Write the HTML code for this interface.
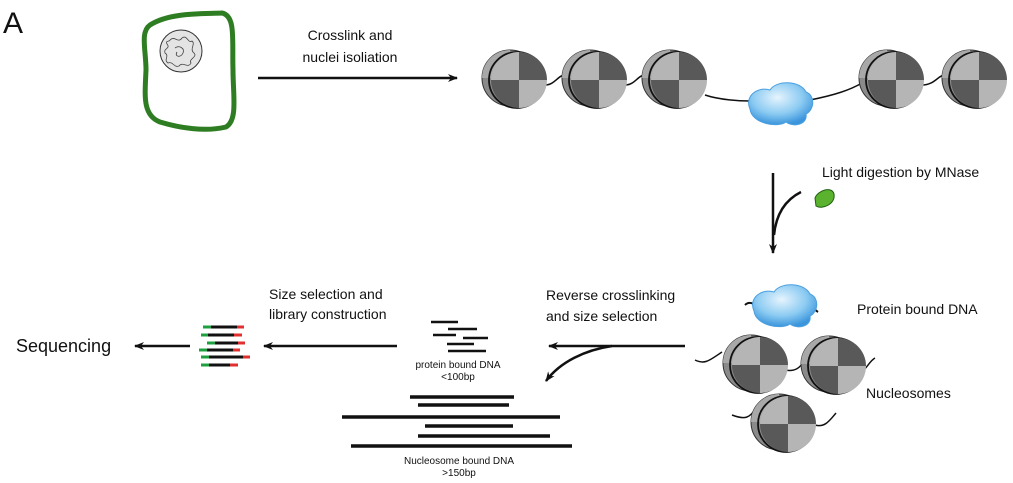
<!DOCTYPE html>
<html><head><meta charset="utf-8"><style>
html,body{margin:0;padding:0;background:#fff;width:1013px;height:483px;overflow:hidden}
text{font-family:"Liberation Sans",Arial,sans-serif;fill:#111}
</style></head><body>
<svg width="1013" height="483" viewBox="0 0 1013 483" xmlns="http://www.w3.org/2000/svg">
<defs>
<marker id="ah" viewBox="0 0 10 10" refX="9" refY="5" markerWidth="12" markerHeight="10" markerUnits="userSpaceOnUse" orient="auto"><path d="M0,1 L10,5 L0,9 L3,5 Z" fill="#111"/></marker>
<radialGradient id="blob" cx="45%" cy="35%" r="65%"><stop offset="0" stop-color="#e6f4fd"/><stop offset="0.6" stop-color="#8ccbf2"/><stop offset="1" stop-color="#3b95dc"/></radialGradient>
<g id="nuc">
<circle cx="-5" cy="-2" r="28" fill="#8a8a8a" stroke="#333" stroke-width="1"/>
<path d="M-5,-30 A28,28 0 0 0 -33,-2 L-5,-2 Z" fill="#a8a8a8"/>
<circle cx="2" cy="0" r="28" fill="none" stroke="#111" stroke-width="1.8"/>
<path d="M4,0 L4,-28 A28,28 0 0 0 -24,0 Z" fill="#b5b5b5"/>
<path d="M4,0 L4,-28 A28,28 0 0 1 32,0 Z" fill="#595959"/>
<path d="M4,0 L-24,0 A28,28 0 0 0 4,28 Z" fill="#595959"/>
<path d="M4,0 L32,0 A28,28 0 0 1 4,28 Z" fill="#b5b5b5"/>
</g>
<path id="cloud" d="M-30,5 C-36,-8 -22,-18 -10,-14 C-4,-24 20,-24 26,-12 C36,-8 34,6 26,10 C28,20 14,24 6,18 C-2,24 -28,20 -30,5 Z" fill="url(#blob)" stroke="#4a9fe0" stroke-width="1"/>
</defs>

<text x="3" y="33" font-size="30">A</text>

<path d="M150,25 C170,12 205,14 222,13 C236,16 232,40 233,70 C233,95 238,120 226,127 C205,132 180,128 160,122 C142,115 145,95 146,70 C146,50 140,32 150,25 Z" fill="none" stroke="#2f7d22" stroke-width="5"/>
<circle cx="181" cy="51" r="21" fill="#e4e4e4" stroke="#333" stroke-width="1"/>
<path d="M170,40 c5,-5 8,4 12,-2 c5,-4 6,6 10,3 c4,3 -3,8 2,12 c4,4 -6,6 -3,10 c-3,6 -8,-2 -12,3 c-5,2 -6,-5 -11,-3 c-5,-3 2,-7 -3,-10 c-2,-5 6,-4 2,-9 c-2,-4 3,-2 3,-4 Z M175,48 c4,-3 10,0 8,5 c-2,5 -9,4 -6,-1" fill="none" stroke="#444" stroke-width="0.8"/>

<text x="350" y="40" font-size="14" text-anchor="middle">Crosslink and</text>
<text x="350" y="62" font-size="14" text-anchor="middle">nuclei isoliation</text>
<line x1="258" y1="78" x2="457" y2="78" stroke="#111" stroke-width="2.5" marker-end="url(#ah)"/>

<path d="M545,85 C555,85 558,75 565,75 M625,85 C635,85 638,75 645,75 M705,95 C720,100 740,101 750,101 M810,100 C835,95 850,90 862,83 M922,85 C935,85 938,75 945,75" fill="none" stroke="#111" stroke-width="1.5"/>
<use href="#nuc" x="515" y="80"/>
<use href="#nuc" x="595" y="80"/>
<use href="#nuc" x="675" y="80"/>
<use href="#cloud" x="780" y="104"/>
<use href="#nuc" x="892" y="80"/>
<use href="#nuc" x="975" y="80"/>

<line x1="773" y1="173" x2="773" y2="253" stroke="#111" stroke-width="2.5" marker-end="url(#ah)"/>
<path d="M801,192 C785,200 776,215 774,235" fill="none" stroke="#111" stroke-width="2.5"/>
<path d="M815,198 C818,190 832,186 834,194 C836,204 822,210 816,206 Z" fill="#5ab22e" stroke="#1e5e10" stroke-width="1"/>
<text x="822" y="177" font-size="14">Light digestion by MNase</text>

<path d="M745,305 C750,300 755,305 760,308 M805,305 C812,306 815,310 818,312" fill="none" stroke="#111" stroke-width="2"/>
<use href="#cloud" x="784" y="306"/>
<text x="857" y="314" font-size="14">Protein bound DNA</text>
<path d="M695,360 C705,365 710,360 722,352 M785,370 C795,372 800,368 805,360 M858,372 C866,372 868,362 875,358 M732,415 C745,420 750,418 756,408 M815,425 C825,428 830,420 836,413" fill="none" stroke="#111" stroke-width="1.5"/>
<use href="#nuc" x="756" y="365"/>
<use href="#nuc" x="834" y="366"/>
<use href="#nuc" x="784" y="424"/>
<text x="866" y="398" font-size="14">Nucleosomes</text>

<text x="546" y="300" font-size="14">Reverse crosslinking</text>
<text x="546" y="321" font-size="14">and size selection</text>
<line x1="685" y1="346" x2="549" y2="346" stroke="#111" stroke-width="2.5" marker-end="url(#ah)"/>
<path d="M612,346 C585,350 560,362 546,381" fill="none" stroke="#111" stroke-width="2.5" marker-end="url(#ah)"/>

<g stroke="#111" stroke-width="2.5">
<line x1="431" y1="322" x2="458" y2="322"/>
<line x1="448" y1="329" x2="477" y2="329"/>
<line x1="433" y1="335" x2="456" y2="335"/>
<line x1="463" y1="338" x2="488" y2="338"/>
<line x1="447" y1="344" x2="474" y2="344"/>
<line x1="448" y1="351" x2="486" y2="351"/>
</g>
<text x="458" y="368" font-size="10" text-anchor="middle">protein bound DNA</text>
<text x="458" y="380" font-size="10" text-anchor="middle">&lt;100bp</text>
<g stroke="#111" stroke-width="3.5">
<line x1="410" y1="397" x2="514" y2="397"/>
<line x1="418" y1="405" x2="509" y2="405"/>
<line x1="342" y1="417" x2="560" y2="417"/>
<line x1="425" y1="426" x2="513" y2="426"/>
<line x1="418" y1="436" x2="550" y2="436"/>
<line x1="351" y1="446" x2="572" y2="446"/>
</g>
<text x="459" y="464" font-size="10" text-anchor="middle">Nucleosome bound DNA</text>
<text x="459" y="476" font-size="10" text-anchor="middle">&gt;150bp</text>

<text x="269" y="299" font-size="14">Size selection and</text>
<text x="269" y="319" font-size="14">library construction</text>
<line x1="397" y1="346" x2="264" y2="346" stroke="#111" stroke-width="2.5" marker-end="url(#ah)"/>
<g stroke-width="3">
<line x1="203" y1="327" x2="211" y2="327" stroke="#1fa040"/><line x1="211" y1="327" x2="237" y2="327" stroke="#111"/><line x1="237" y1="327" x2="244" y2="327" stroke="#e03030"/>
<line x1="201" y1="335" x2="208" y2="335" stroke="#1fa040"/><line x1="208" y1="335" x2="234" y2="335" stroke="#111"/><line x1="234" y1="335" x2="242" y2="335" stroke="#e03030"/>
<line x1="207" y1="343" x2="215" y2="343" stroke="#1fa040"/><line x1="215" y1="343" x2="238" y2="343" stroke="#111"/><line x1="238" y1="343" x2="245" y2="343" stroke="#e03030"/>
<line x1="199" y1="350" x2="207" y2="350" stroke="#1fa040"/><line x1="207" y1="350" x2="233" y2="350" stroke="#111"/><line x1="233" y1="350" x2="240" y2="350" stroke="#e03030"/>
<line x1="201" y1="357" x2="209" y2="357" stroke="#1fa040"/><line x1="209" y1="357" x2="243" y2="357" stroke="#111"/><line x1="243" y1="357" x2="250" y2="357" stroke="#e03030"/>
<line x1="201" y1="365" x2="209" y2="365" stroke="#1fa040"/><line x1="209" y1="365" x2="230" y2="365" stroke="#111"/><line x1="230" y1="365" x2="238" y2="365" stroke="#e03030"/>
</g>
<line x1="190" y1="346" x2="135" y2="346" stroke="#111" stroke-width="2.5" marker-end="url(#ah)"/>
<text x="16" y="352" font-size="18">Sequencing</text>
</svg>
</body></html>
